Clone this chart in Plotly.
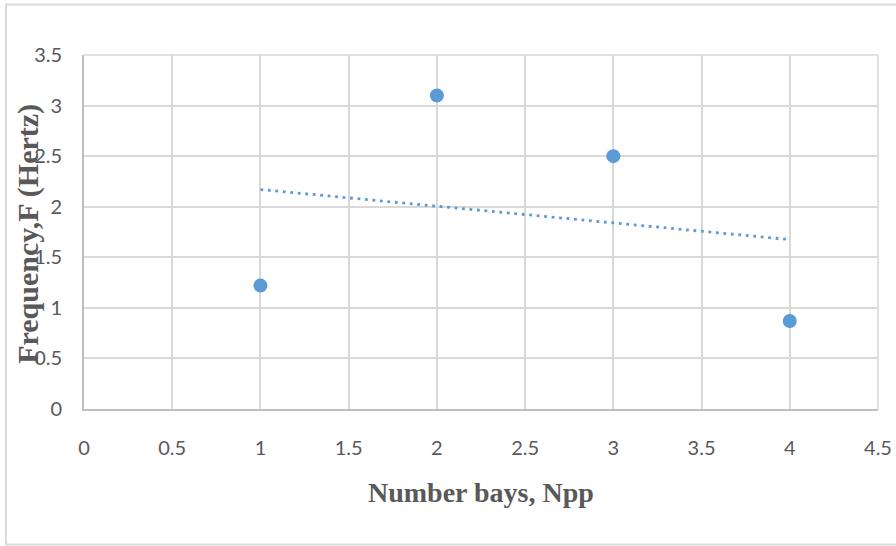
import numpy as np
import plotly.graph_objects as go

# Measured natural frequency against number of bays
bays = [1, 2, 3, 4]
frequency = [1.22, 3.10, 2.50, 0.87]

x_ticks = [0, 0.5, 1, 1.5, 2, 2.5, 3, 3.5, 4, 4.5]
y_ticks = [0, 0.5, 1, 1.5, 2, 2.5, 3, 3.5]

BLUE = "#5b9bd5"
GRID = "#d9d9d9"
AXIS = "#bfbfbf"
TEXT = "#595959"

# Linear least-squares trendline over the data span
slope, intercept = np.polyfit(bays, frequency, 1)
trend_x = [min(bays), max(bays)]
trend_y = [slope * v + intercept for v in trend_x]

fig = go.Figure()
fig.add_trace(go.Scatter(
    x=trend_x, y=trend_y, mode="lines",
    line=dict(color=BLUE, width=2.8, dash="2.8px,4.7px"),
    hoverinfo="skip", showlegend=False,
))
fig.add_trace(go.Scatter(
    x=bays, y=frequency, mode="markers",
    marker=dict(color=BLUE, size=14, line=dict(width=0)),
    showlegend=False,
))

tick_font = dict(family="Lato, 'Open Sans', sans-serif", size=20, color=TEXT)
title_font = dict(family="'Liberation Serif', 'Times New Roman', serif", size=28, color=TEXT)

fig.update_xaxes(
    range=[0, 4.5], tickvals=x_ticks, ticktext=[f"{v:g}" for v in x_ticks],
    showgrid=True, gridcolor=GRID, gridwidth=1.6,
    showline=True, linecolor=AXIS, linewidth=1.8,
    zeroline=False, ticks="", tickfont=tick_font, ticklabelstandoff=20,
    automargin=False, ticklabeloverflow="allow",
)
fig.update_yaxes(
    range=[0, 3.5], tickvals=y_ticks, ticktext=[f"{v:g}" for v in y_ticks],
    showgrid=True, gridcolor=GRID, gridwidth=1.6,
    showline=True, linecolor=AXIS, linewidth=1.8,
    zeroline=False, ticks="", tickfont=tick_font, ticklabelstandoff=16,
    automargin=False,
)

fig.update_layout(
    width=896, height=546,
    margin=dict(l=84, r=18, t=55, b=137, autoexpand=False),
    paper_bgcolor="white", plot_bgcolor="white",
    showlegend=False,
    shapes=[
        # outer chart frame (its right side runs past the page edge)
        dict(type="rect", xref="paper", yref="paper",
             x0=-0.0982, x1=1.04, y0=-0.3828, y1=1.1427,
             line=dict(color=GRID, width=2), layer="below"),
        # gridlines on the far edges of the plot area
        dict(type="line", xref="paper", yref="paper", x0=0, x1=1, y0=1, y1=1,
             line=dict(color=GRID, width=1.6), layer="below"),
        dict(type="line", xref="paper", yref="paper", x0=1, x1=1, y0=0, y1=1,
             line=dict(color=GRID, width=1.6), layer="below"),
    ],
    annotations=[
        dict(text="<b>Number bays, Npp</b>", xref="paper", yref="paper",
             x=0.4994, y=-0.237, xanchor="center", yanchor="middle",
             showarrow=False, font=title_font),
        dict(text="<b>Frequency,F (Hertz)</b>", xref="paper", yref="paper",
             x=-0.0705, y=0.495, xanchor="center", yanchor="middle",
             textangle=-90, showarrow=False, font=dict(title_font, size=30)),
    ],
)

fig.write_html("out.html")
